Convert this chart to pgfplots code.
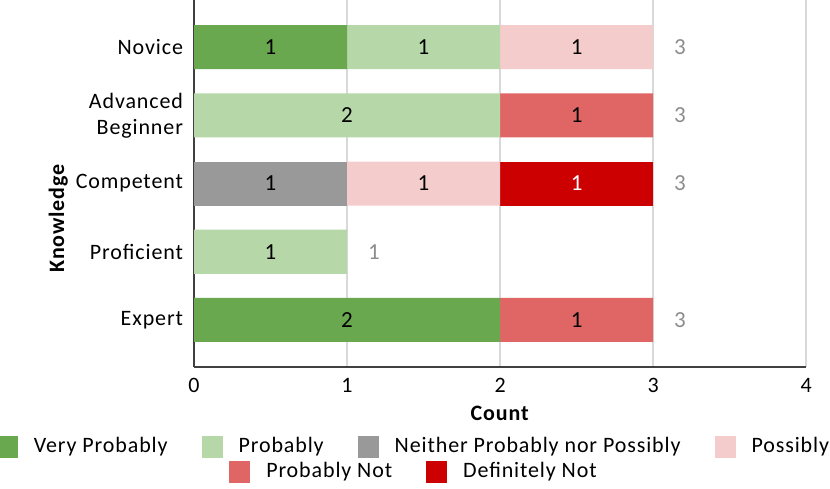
\documentclass[border=0pt]{standalone}
\usepackage{fontspec}
\setmainfont{Carlito}[LetterSpace=4]
\usepackage{pgfplots}
\pgfplotsset{compat=1.18}
\usepackage{pgfplotstable}
\definecolor{cVP}{HTML}{6AA84F}
\definecolor{cP}{HTML}{B6D7A8}
\definecolor{cN}{HTML}{999999}
\definecolor{cPs}{HTML}{F4CCCC}
\definecolor{cPN}{HTML}{E06666}
\definecolor{cDN}{HTML}{CC0000}
\definecolor{gridc}{HTML}{D9D9D9}
\definecolor{totc}{HTML}{8C8C8C}
\definecolor{axc}{HTML}{404040}

\pgfplotstableread{
pos vp p n ps pn dn tot
4 1 1 0 1 0 0 3
3 0 2 0 0 1 0 3
2 0 0 1 1 0 1 3
1 0 1 0 0 0 0 1
0 2 0 0 0 1 0 3
}\datatable

\pgfplotsset{
  sq/.style={legend image code/.code={\fill[##1] (0pt,-5.5pt) rectangle (10.5pt,5.5pt);}},
  seg/.style={fill=#1, draw=none, sq},
  myleg/.style={legend style={draw=none, fill=none, inner sep=0pt,
      font=\fontsize{11}{13}\selectfont,
      /tikz/every odd column/.append style={column sep=6pt},
      /tikz/every even column/.append style={column sep=15pt}}},
  common/.style={scale only axis, width=306pt, height=183.5pt,
      xmin=0, xmax=4, ymin=-0.69, ymax=4.69,
      /pgf/number format/assume math mode=true},
}

\begin{document}
\begin{tikzpicture}
\begin{axis}[
  common,
  xbar stacked, bar width=22pt,
  xtick={0,1,2,3,4}, ytick={0,1,2,3,4},
  yticklabels={Expert,Proficient,Competent,{Advanced\\Beginner},Novice},
  yticklabel style={align=right, font=\fontsize{11}{13}\selectfont, xshift=-2pt},
  xticklabel style={font=\fontsize{11}{13}\selectfont, yshift=-2pt},
  major tick length=0pt,
  axis lines*=left,
  axis line style={draw=axc, line width=0.7pt, -},
  xmajorgrids, grid style={draw=gridc, line width=0.7pt},
  xlabel={\textbf{Count}}, ylabel={\textbf{Knowledge}},
  xlabel style={at={(axis description cs:0.5,-0.125)}, anchor=center, font=\fontsize{11}{13}\selectfont},
  ylabel style={at={(axis description cs:-0.222,0.406)}, anchor=center, rotate=0, font=\fontsize{11}{13}\selectfont},
  point meta=explicit,
  nodes near coords={\pgfmathfloatifflags{\pgfplotspointmeta}{0}{}{\pgfmathprintnumber{\pgfplotspointmeta}}},
  every node near coord/.append style={anchor=center, font=\fontsize{11.5}{13}\selectfont, text=black},
  myleg, legend columns=4,
  legend style={at={(0.361,-0.18)}, anchor=north},
]
\addplot[seg=cVP] table[x=vp, y=pos, meta=vp] \datatable;
\addlegendentry{Very Probably}
\addplot[seg=cP] table[x=p, y=pos, meta=p] \datatable;
\addlegendentry{Probably}
\addplot[seg=cN] table[x=n, y=pos, meta=n] \datatable;
\addlegendentry{Neither Probably nor Possibly}
\addplot[seg=cPs] table[x=ps, y=pos, meta=ps] \datatable;
\addlegendentry{Possibly}
\addplot[seg=cPN] table[x=pn, y=pos, meta=pn] \datatable;
\addplot[seg=cDN, every node near coord/.append style={text=white}] table[x=dn, y=pos, meta=dn] \datatable;
\coordinate (bl) at (rel axis cs:-0.317,-0.332);
\coordinate (tr) at (rel axis cs:1.039,1);
\end{axis}
\begin{axis}[
  common, hide axis,
  myleg, legend columns=2,
  legend style={at={(0.361,-0.248)}, anchor=north},
]
\addplot[draw=none, mark=none, forget plot, point meta=explicit,
  nodes near coords={\pgfmathprintnumber{\pgfplotspointmeta}},
  every node near coord/.style={anchor=west, text=totc, xshift=7pt, font=\fontsize{11.5}{13}\selectfont}]
  table[x=tot, y=pos, meta=tot] \datatable;
\addlegendimage{fill=cPN, draw=none, sq}
\addlegendentry{Probably Not}
\addlegendimage{fill=cDN, draw=none, sq}
\addlegendentry{Definitely Not}
\end{axis}
\pgfresetboundingbox
\path[use as bounding box] (bl) rectangle (tr);
\end{tikzpicture}
\end{document}
